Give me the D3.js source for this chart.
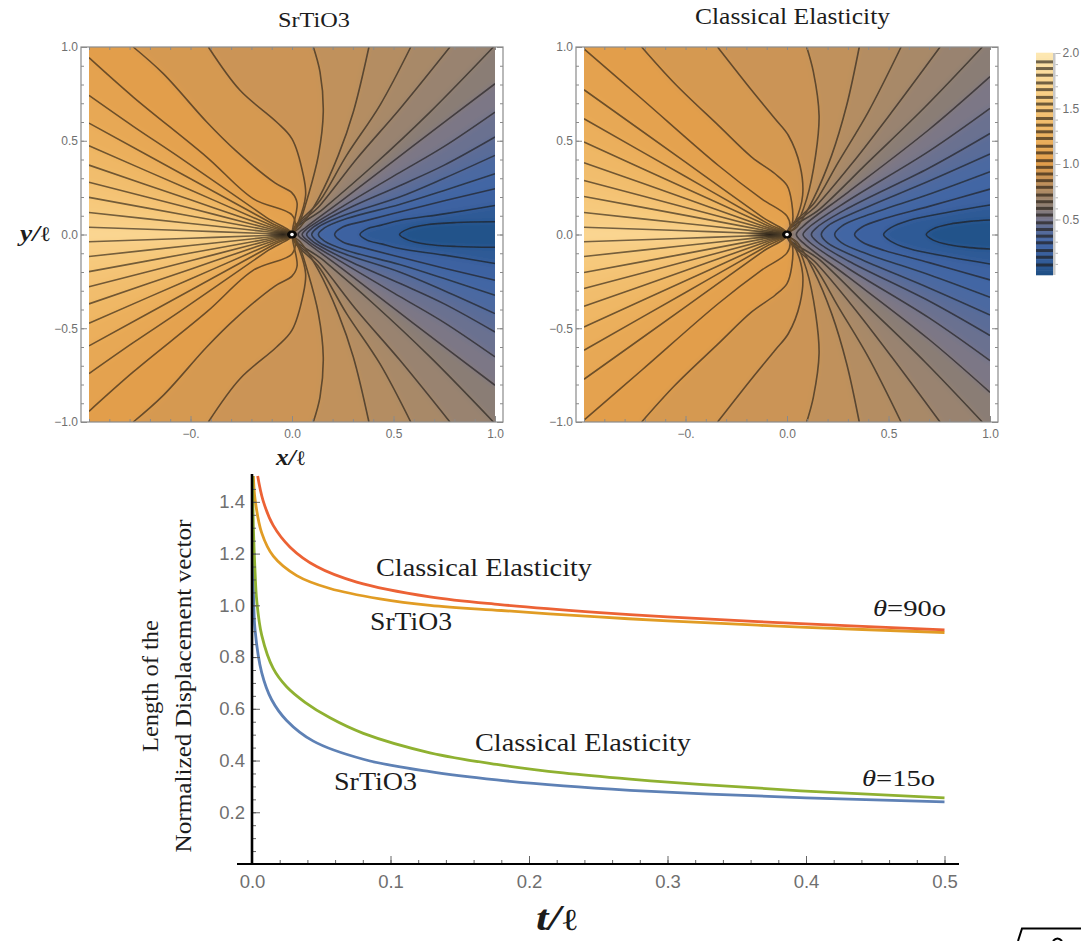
<!DOCTYPE html>
<html>
<head>
<meta charset="utf-8">
<title>SrTiO3 displacement</title>
<script src="https://cdn.jsdelivr.net/npm/d3@7"></script>
<style>
  body { margin: 0; background: #fff; }
  .serif { font-family: "Liberation Serif", serif; fill: #1c1c1c; }
  .axisText text { font-family: "Liberation Sans", sans-serif; fill: #6f6f6f; }
</style>
</head>
<body>
<script>
// contour lines of the two maps, upper half only, each one runs from its start on the
// y=0 line out to the edge of the plot. order: inner blue hairpin first, left wedge last
let srtio3Contours = [
  [[0.53,0],[0.573,0.03],[0.663,0.052],[0.811,0.064],[1,0.068]],
  [[0.335,0],[0.37,0.03],[0.44,0.05],[0.53,0.075],[0.75,0.11],[1,0.155]],
  [[0.21,0],[0.25,0.04],[0.35,0.07],[0.53,0.12],[0.75,0.18],[1,0.244]],
  [[0.13,0],[0.16,0.035],[0.27,0.085],[0.53,0.16],[0.75,0.235],[1,0.324]],
  [[0.097,0],[0.13,0.04],[0.25,0.1],[0.53,0.2],[0.75,0.3],[1,0.422]],
  [[0.072,0],[0.1,0.035],[0.25,0.125],[0.53,0.26],[0.75,0.37],[1,0.52]],
  [[0.05,0],[0.08,0.035],[0.25,0.15],[0.53,0.33],[0.75,0.47],[1,0.653]],
  [[0.03,0],[0.07,0.04],[0.25,0.185],[0.6,0.475],[1,0.804]],
  [[0,0],[0.154,0.137],[0.4,0.368],[0.68,0.653],[0.992,1]],
  [[0,0],[0.138,0.155],[0.319,0.404],[0.532,0.671],[0.778,1]],
  [[0,0],[0.138,0.181],[0.269,0.422],[0.433,0.689],[0.585,1]],
  [[0,0],[0.04,0.039],[0.13,0.19],[0.228,0.422],[0.302,0.653],[0.379,1]],
  [[0,0],[0.031,0.048],[0.08,0.208],[0.13,0.422],[0.154,0.653],[0.138,0.867],[0.105,1]],
  [[0,0],[0.031,0.066],[0.067,0.208],[0.056,0.315],[0,0.51],[-0.076,0.6],[-0.256,0.769],[-0.412,1]],
  [[0,0],[0.005,0.04],[0.025,0.168],[0,0.222],[-0.084,0.275],[-0.28,0.45],[-0.42,0.6],[-0.634,0.858],[-0.782,1]],
  [[0,0],[0.015,0.03],[0,0.104],[-0.19,0.19],[-0.42,0.413],[-0.782,0.733],[-1,0.943]],
  [[0,0],[-0.125,0.09],[-0.552,0.41],[-0.782,0.577],[-1,0.742]],
  [[0,0],[-0.1,0.06],[-0.5,0.297],[-1,0.594]],
  [[0,0],[-0.1,0.048],[-0.5,0.237],[-1,0.473]],
  [[0,0],[-0.1,0.037],[-0.5,0.185],[-1,0.37]],
  [[0,0],[-0.1,0.028],[-0.5,0.14],[-1,0.279]],
  [[0,0],[-0.1,0.02],[-0.5,0.099],[-1,0.198]],
  [[0,0],[-0.1,0.012],[-0.5,0.059],[-1,0.117]],
  [[0,0],[-0.1,0.004],[-0.5,0.02],[-1,0.039]]
];
let classicalContours = [
  [[0.686,0],[0.72,0.03],[0.8,0.055],[0.9,0.07],[1,0.077]],
  [[0.476,0],[0.51,0.035],[0.6,0.075],[0.8,0.12],[1,0.157]],
  [[0.333,0],[0.37,0.04],[0.48,0.085],[0.7,0.15],[1,0.242]],
  [[0.235,0],[0.27,0.045],[0.4,0.105],[0.7,0.215],[1,0.335]],
  [[0.169,0],[0.2,0.045],[0.35,0.125],[0.7,0.285],[1,0.429]],
  [[0.12,0],[0.15,0.04],[0.3,0.14],[0.7,0.355],[1,0.539]],
  [[0.079,0],[0.11,0.04],[0.3,0.18],[0.7,0.445],[1,0.673]],
  [[0.046,0],[0.08,0.045],[0.3,0.225],[0.7,0.56],[1,0.842]],
  [[0,0],[0.163,0.137],[0.4,0.386],[0.68,0.68],[0.962,1]],
  [[0,0],[0.146,0.155],[0.319,0.377],[0.516,0.653],[0.754,1]],
  [[0,0],[0.138,0.173],[0.253,0.386],[0.4,0.653],[0.562,1]],
  [[0,0],[0.048,0.039],[0.13,0.19],[0.22,0.422],[0.294,0.689],[0.356,1]],
  [[0,0],[0.039,0.039],[0.097,0.19],[0.141,0.422],[0.158,0.635],[0.13,0.867],[0.097,1]],
  [[0,0],[0.039,0.066],[0.077,0.208],[0.064,0.368],[0.007,0.528],[-0.059,0.617],[-0.174,0.769],[-0.342,1]],
  [[0,0],[0.026,0.057],[0.023,0.173],[0,0.262],[-0.059,0.324],[-0.174,0.413],[-0.338,0.582],[-0.552,0.804],[-0.716,1]],
  [[0,0],[0.015,0.03],[0,0.098],[-0.125,0.19],[-0.338,0.368],[-0.716,0.724],[-1,0.99]],
  [[0,0],[-0.125,0.095],[-0.5,0.386],[-1,0.772]],
  [[0,0],[-0.1,0.062],[-0.5,0.309],[-1,0.617]],
  [[0,0],[-0.1,0.049],[-0.5,0.247],[-1,0.493]],
  [[0,0],[-0.1,0.038],[-0.5,0.192],[-1,0.383]],
  [[0,0],[-0.1,0.029],[-0.5,0.144],[-1,0.288]],
  [[0,0],[-0.1,0.02],[-0.5,0.102],[-1,0.203]],
  [[0,0],[-0.1,0.012],[-0.5,0.059],[-1,0.117]],
  [[0,0],[-0.1,0.004],[-0.5,0.02],[-1,0.039]]
];
// value shown inside each contour, the last one is the wedge beyond the last contour
let bandValues = [0.03,0.1,0.2,0.27,0.33,0.4,0.46,0.52,0.6,0.66,0.72,0.77,0.82,0.87,0.93,1.0,1.05,1.12,1.2,1.3,1.38,1.46,1.54,1.62,1.72];

let colorStops = [0,0.1,0.2,0.3,0.4,0.5,0.6,0.7,0.85,1.0,1.3,1.6,2.0];
let colorRange = ["#1f4f85","#2f5a96","#3d62a1","#4567a5","#5a6c98","#77758a","#8a7d74","#a3876b","#c79358","#e29e4b","#efb765","#f8cd82","#fde9b5"];

let colorbarLevels = [1.92,1.86,1.80,1.73,1.67,1.60,1.54,1.48,1.41,1.35,1.29,1.23,1.16,1.10,1.03,0.97,0.91,0.85,0.79,0.72,0.66,0.60,0.54,0.47,0.41,0.35,0.29,0.22,0.16,0.09];
let colorbarTicks = [0.5,1.0,1.5,2.0];

let mapMajorTicks = [-1,-0.5,0,0.5,1];
let mapXLabelled = [-0.5,0,0.5,1];

// line chart, t/l against length
let redT = [0.0041,0.008,0.0152,0.0275,0.0467,0.0756,0.1285,0.179,0.251,0.3,0.4,0.5];
let redV = [1.5,1.405,1.31,1.225,1.15,1.09,1.033,1.003,0.972,0.955,0.928,0.905];
let orangeT = [0.001,0.0022,0.007,0.0154,0.0323,0.0563,0.0924,0.1285,0.18,0.25,0.3,0.4,0.5];
let orangeV = [1.5,1.41,1.28,1.19,1.115,1.065,1.025,1.0,0.98,0.955,0.94,0.915,0.895];
let greenT = [0.0004,0.001,0.0022,0.0034,0.007,0.0154,0.025,0.0383,0.0563,0.0804,0.1285,0.1767,0.2247,0.273,0.323,0.396,0.5];
let greenV = [1.5,1.3,1.13,1.02,0.885,0.755,0.685,0.625,0.565,0.505,0.43,0.385,0.352,0.328,0.308,0.283,0.256];
let blueT = [0.0003,0.001,0.0022,0.007,0.0142,0.025,0.0443,0.0804,0.1285,0.1767,0.225,0.273,0.33,0.4,0.5];
let blueV = [1.3,1.06,0.905,0.74,0.635,0.555,0.475,0.405,0.357,0.325,0.302,0.285,0.27,0.256,0.24];
let lineXTicks = [0,0.1,0.2,0.3,0.4,0.5];
let lineYTicks = [0.2,0.4,0.6,0.8,1.0,1.2,1.4];

let svg = d3.select("body").append("svg").attr("width",1081).attr("height",941).style("display","block");
let defs = svg.append("defs");
defs.append("filter").attr("id","soft").attr("x","-5%").attr("y","-5%").attr("width","110%").attr("height","110%")
    .append("feGaussianBlur").attr("stdDeviation",3);
defs.append("filter").attr("id","softLine").attr("x","-5%").attr("y","-5%").attr("width","110%").attr("height","110%")
    .append("feGaussianBlur").attr("stdDeviation",0.35);
let hub = defs.append("radialGradient").attr("id","hub");
hub.append("stop").attr("offset","0%").attr("stop-color","#1a140e").attr("stop-opacity",0.8);
hub.append("stop").attr("offset","50%").attr("stop-color","#2a2015").attr("stop-opacity",0.5);
hub.append("stop").attr("offset","100%").attr("stop-color","#3a2e20").attr("stop-opacity",0);

let valueColor = d3.scaleLinear().domain(colorStops).range(colorRange);

function drawMap(name, contours, left, smudge){
  let x = d3.scaleLinear().domain([-1,1]).range([left,left+406]);
  let y = d3.scaleLinear().domain([-1,1]).range([422,47]);
  let g = svg.append("g");
  let line = d3.line().x(d=>x(d[0])).y(d=>y(d[1])).curve(d3.curveCatmullRom.alpha(0.5));

  defs.append("clipPath").attr("id","clip"+name).append("rect")
      .attr("x",x(-1)).attr("y",y(1)).attr("width",x(1)-x(-1)).attr("height",y(-1)-y(1));
  let plot = g.append("g").attr("clip-path","url(#clip"+name+")");
  let fills = plot.append("g").attr("filter","url(#soft)");
  fills.append("rect").attr("x",x(-1.2)).attr("y",y(1.2)).attr("width",x(1.2)-x(-1.2)).attr("height",y(-1.2)-y(1.2))
       .attr("fill",valueColor(bandValues[bandValues.length-1]));

  function whole(pts){
    let lower = pts.slice(1).reverse().map(p=>[p[0],-p[1]]);
    return lower.concat(pts);
  }
  // way round the plot from the end of the upper branch to the end of the lower one
  function around(pts){
    let e = pts[pts.length-1], m = 1.2;
    if(e[0]<=-1) return [[-m,e[1]],[-m,m],[m,m],[m,-m],[-m,-m],[-m,-e[1]]];
    if(e[1]>=1) return [[e[0],m],[m,m],[m,-m],[e[0],-m]];
    return [[m,e[1]],[m,-e[1]]];
  }
  // biggest region first, the smaller ones paint over it
  for(let i=contours.length-1;i>=0;i--){
    let d = line(whole(contours[i]));
    around(contours[i]).forEach(p=>{ d += "L"+x(p[0])+","+y(p[1]); });
    fills.append("path").attr("d",d+"Z").attr("fill",valueColor(bandValues[i]));
  }
  plot.append("g").attr("filter","url(#softLine)").selectAll("path.contour").data(contours).enter().append("path")
      .attr("class","contour")
      .attr("d",d=>line(whole(d)))
      .attr("fill","none")
      .attr("stroke",(d,i)=>d3.interpolateRgb(valueColor(bandValues[i]),"#1d1710")(0.6))
      .attr("stroke-width",1.6);

  plot.append("ellipse").attr("cx",x(smudge/2)).attr("cy",y(0))
      .attr("rx",x(0)-x(smudge/2)+8).attr("ry",6).attr("fill","url(#hub)");
  plot.append("ellipse").attr("cx",x(0)).attr("cy",y(0)).attr("rx",5).attr("ry",4).attr("fill","#0a0806");
  plot.append("circle").attr("cx",x(0)).attr("cy",y(0)).attr("r",1.8).attr("fill","#fff");

  // frame is wider than the filled part
  let fl = left-8, fr = left+414;
  g.append("rect").attr("x",fl).attr("y",y(1)).attr("width",fr-fl).attr("height",y(-1)-y(1))
      .attr("fill","none").attr("stroke","#8a8a8a").attr("stroke-width",1.2);
  let minor = d3.range(-10,11).map(v=>v/10);
  let xIn = fn => fn(x).tickValues(minor).tickSize(-3).tickFormat("");
  let yIn = fn => fn(y).tickValues(minor).tickSize(-3).tickFormat("");
  let yMaj = fn => fn(y).tickValues(mapMajorTicks).tickSize(-6);
  let styleAxis = a => { a.select(".domain").remove(); a.selectAll("line").attr("stroke","#8a8a8a"); a.attr("class","axisText"); };

  g.append("g").attr("transform","translate(0,"+y(-1)+")").call(xIn(d3.axisBottom)).call(styleAxis);
  g.append("g").attr("transform","translate(0,"+y(1)+")").call(xIn(d3.axisTop)).call(styleAxis);
  g.append("g").attr("transform","translate("+fl+",0)").call(yIn(d3.axisLeft)).call(styleAxis);
  g.append("g").attr("transform","translate("+fr+",0)").call(yIn(d3.axisRight)).call(styleAxis);
  g.append("g").attr("transform","translate("+fr+",0)").call(yMaj(d3.axisRight).tickFormat("")).call(styleAxis);
  g.append("g").attr("transform","translate("+fl+",0)")
      .call(yMaj(d3.axisLeft).tickPadding(3).tickFormat(d=>d3.format(".1f")(d).replace("-","\u2212")))
      .call(styleAxis).selectAll("text").attr("font-size",12);
  g.append("g").attr("transform","translate(0,"+y(-1)+")")
      .call(d3.axisBottom(x).tickValues(mapXLabelled).tickSize(-6).tickPadding(7)
        .tickFormat(d=>d==-0.5?"\u22120.":d3.format(".1f")(d)))
      .call(styleAxis).selectAll("text").attr("font-size",12);
}

drawMap("A",srtio3Contours,89,-0.09);
drawMap("B",classicalContours,584,-0.17);

// colour bar
let barY = d3.scaleLinear().domain([0,2]).range([275,53]);
let barG = svg.append("g");
barG.selectAll("rect.slice").data(d3.range(0,2,0.02)).enter().append("rect")
    .attr("class","slice").attr("x",1036).attr("width",17)
    .attr("y",d=>barY(d+0.02)-0.3).attr("height",barY(0)-barY(0.02)+0.6)
    .attr("fill",d=>valueColor(d));
barG.selectAll("rect.level").data(colorbarLevels).enter().append("rect")
    .attr("class","level").attr("x",1036).attr("width",17)
    .attr("y",d=>barY(d)-1.5).attr("height",3)
    .attr("fill",d=>d3.interpolateRgb(valueColor(d),"#1d1710")(0.62));
barG.append("rect").attr("x",1053).attr("y",barY(2)).attr("width",2.5).attr("height",barY(0)-barY(2)).attr("fill","#c8c8c8");
barG.append("g").attr("class","axisText").attr("transform","translate(1055.5,0)")
    .call(d3.axisRight(barY).tickValues(d3.range(1,20).map(v=>v/10)).tickSize(2.5).tickFormat(""))
    .call(a=>{a.select(".domain").remove(); a.selectAll("line").attr("stroke","#b5b5b5");});
barG.append("g").attr("class","axisText").attr("transform","translate(1055.5,0)")
    .call(d3.axisRight(barY).tickValues(colorbarTicks).tickSize(5).tickPadding(2).tickFormat(d3.format(".1f")))
    .call(a=>{a.select(".domain").remove(); a.selectAll("line").attr("stroke","#b5b5b5"); a.selectAll("text").attr("font-size",12);});

// line chart
let xL = d3.scaleLinear().domain([0,0.5]).range([252,944.5]);
let yL = d3.scaleLinear().domain([0,1.5]).range([864,476]);
let lg = svg.append("g");
defs.append("clipPath").attr("id","clipL").append("rect").attr("x",xL(0)).attr("y",yL(1.5)-1).attr("width",xL(0.5)-xL(0)+2).attr("height",yL(0)-yL(1.5)+1);
let series = [
  {t:orangeT,v:orangeV,c:"#e19c24"},
  {t:redT,v:redV,c:"#ec6235"},
  {t:blueT,v:blueV,c:"#5e81b5"},
  {t:greenT,v:greenV,c:"#8fb131"}
];
lg.append("g").attr("clip-path","url(#clipL)").selectAll("path").data(series).enter().append("path")
    .attr("d",s=>d3.line().x(d=>xL(d[0])).y(d=>yL(d[1])).curve(d3.curveCatmullRom.alpha(0.5))(s.t.map((t,i)=>[t,s.v[i]])))
    .attr("fill","none").attr("stroke",s=>s.c).attr("stroke-width",2.8);

let darkTicks = a => { a.select(".domain").remove(); a.selectAll("line").attr("stroke","#555").attr("stroke-width",0.9); };
lg.append("g").attr("transform","translate(0,864)")
    .call(d3.axisBottom(xL).tickValues(d3.range(0,26).map(v=>v/50)).tickSize(-4).tickFormat("")).call(darkTicks);
lg.append("g").attr("transform","translate(252,0)")
    .call(d3.axisLeft(yL).tickValues(d3.range(1,30).map(v=>v/20)).tickSize(-4).tickFormat("")).call(darkTicks);
lg.append("g").attr("class","axisText").attr("transform","translate(0,864)")
    .call(d3.axisBottom(xL).tickValues(lineXTicks).tickSize(-8).tickPadding(11).tickFormat(d3.format(".1f")))
    .call(darkTicks).selectAll("text").attr("font-size",18.5);
lg.append("g").attr("class","axisText").attr("transform","translate(252,0)")
    .call(d3.axisLeft(yL).tickValues(lineYTicks).tickSize(-8).tickPadding(7).tickFormat(d3.format(".1f")))
    .call(darkTicks).selectAll("text").attr("font-size",18.5);
lg.append("line").attr("x1",237).attr("x2",959).attr("y1",864).attr("y2",864).attr("stroke","#000").attr("stroke-width",2);
lg.append("line").attr("x1",252).attr("x2",252).attr("y1",474).attr("y2",865).attr("stroke","#000").attr("stroke-width",2.6);

// text
function label(str,x,y,size,width){
  svg.append("text").attr("class","serif").attr("x",x).attr("y",y).attr("font-size",size)
     .attr("textLength",width).attr("lengthAdjust","spacingAndGlyphs").text(str);
}
label("SrTiO3",278,27,22,72);
label("Classical Elasticity",695,24,23,195);
label("Classical Elasticity",376,576,25,216);
label("SrTiO3",370,630,25,82);
label("Classical Elasticity",475,751,25,216);
label("SrTiO3",334,790,25,83);

function angleLabel(val,x,y){
  let t = svg.append("text").attr("class","serif").attr("x",x).attr("y",y).attr("font-size",24)
      .attr("textLength",73).attr("lengthAdjust","spacingAndGlyphs");
  t.append("tspan").attr("font-style","italic").text("\u03b8");
  t.append("tspan").text("="+val+"o");
}
angleLabel("90",873,616);
angleLabel("15",862,786);

function ratio(sym,x,y,size,width){
  let t = svg.append("text").attr("class","serif").attr("x",x).attr("y",y).attr("font-size",size)
      .attr("textLength",width).attr("lengthAdjust","spacingAndGlyphs");
  t.append("tspan").attr("font-style","italic").attr("font-weight","bold").text(sym+"/");
  t.append("tspan").attr("font-family","DejaVu Serif").attr("font-weight","normal").attr("font-size",size*0.85).text("\u2113");
}
ratio("x",276,465,24,30);
ratio("y",20,241,24,31);
ratio("t",536,930,36,43);

svg.append("text").attr("class","serif").attr("transform","translate(158,686) rotate(-90)")
   .attr("text-anchor","middle").attr("font-size",24).attr("textLength",132).attr("lengthAdjust","spacingAndGlyphs").text("Length of the");
svg.append("text").attr("class","serif").attr("transform","translate(191,686) rotate(-90)")
   .attr("text-anchor","middle").attr("font-size",24).attr("textLength",333).attr("lengthAdjust","spacingAndGlyphs").text("Normalized Displacement vector");

// bit of the next equation that got caught in the crop
svg.append("path").attr("d","M1018,941L1022,928.5H1081").attr("fill","none").attr("stroke","#000").attr("stroke-width",2);
svg.append("path").attr("d","M1053,941Q1057.5,936 1062,941").attr("fill","none").attr("stroke","#000").attr("stroke-width",2);
</script>
</body>
</html>
